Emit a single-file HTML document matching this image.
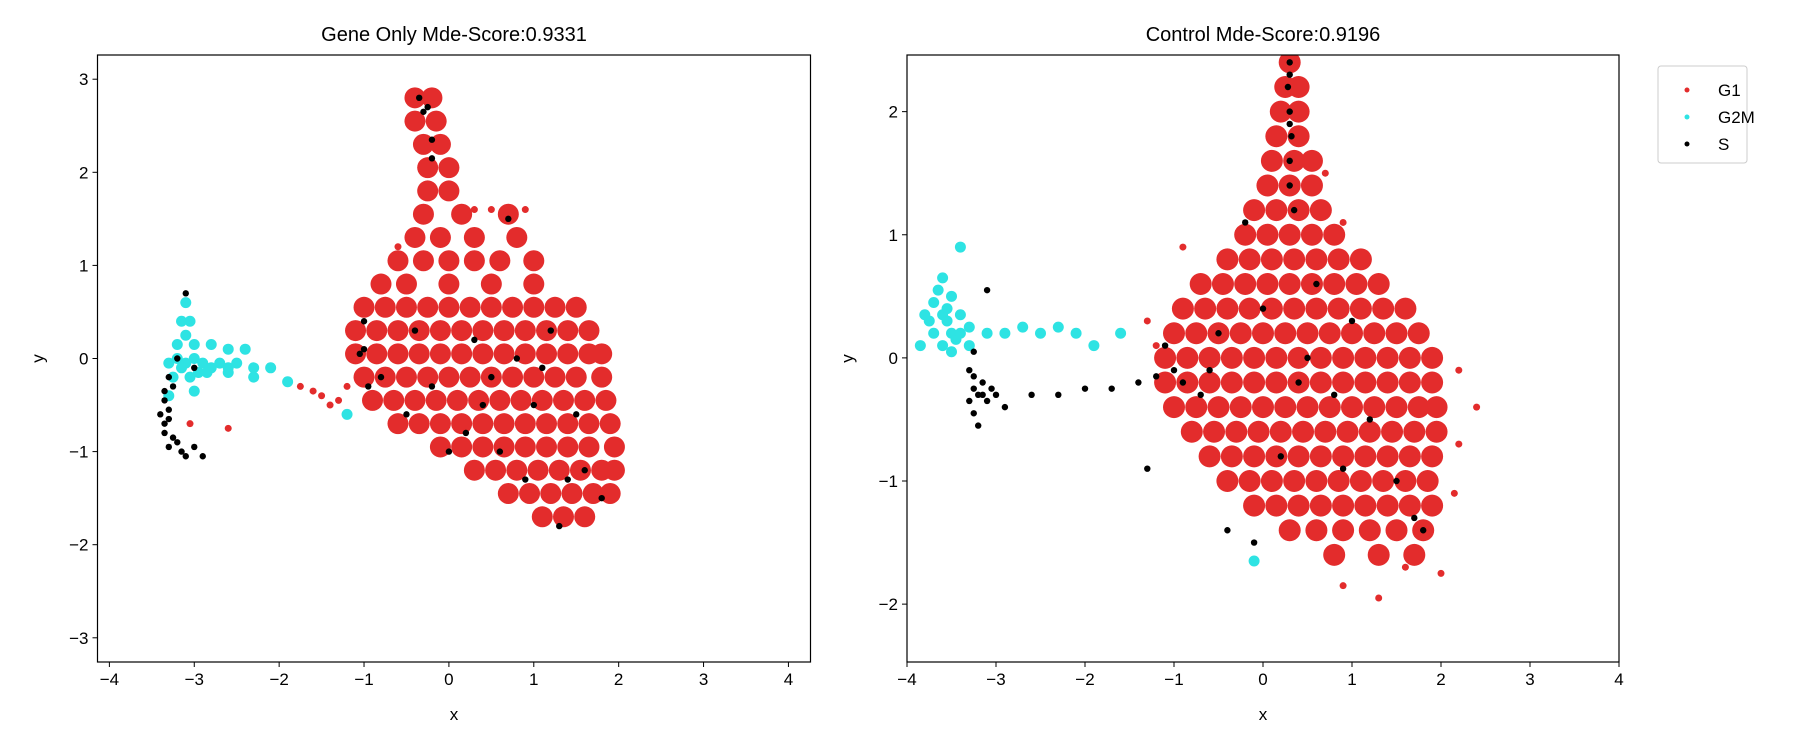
<!DOCTYPE html>
<html><head><meta charset="utf-8"><style>
body{margin:0;background:#fff;}
svg{display:block;font-family:"Liberation Sans",sans-serif;}
</style></head><body>
<svg id="chart" width="1800" height="750" xmlns="http://www.w3.org/2000/svg"></svg>
<script>
// ---------- data (rows: [y, [x...]] or points [x,y]) ----------
const leftRedRows = [
 [2.8,[-0.4,-0.2]],[2.55,[-0.4,-0.15]],[2.3,[-0.3,-0.1]],[2.05,[-0.25,0]],[1.8,[-0.25,0]],
 [1.55,[-0.3,0.15,0.7]],[1.3,[-0.4,-0.1,0.3,0.8]],[1.05,[-0.6,-0.3,0,0.3,0.6,1.0]],
 [0.8,[-0.8,-0.5,0,0.5,1.0]],
 [0.55,[-1,-0.75,-0.5,-0.25,0,0.25,0.5,0.75,1,1.25,1.5]],
 [0.3,[-1.1,-0.85,-0.6,-0.35,-0.1,0.15,0.4,0.65,0.9,1.15,1.4,1.65]],
 [0.05,[-1.1,-0.85,-0.6,-0.35,-0.1,0.15,0.4,0.65,0.9,1.15,1.4,1.65,1.8]],
 [-0.2,[-1.0,-0.75,-0.5,-0.25,0,0.25,0.5,0.75,1,1.25,1.5,1.8]],
 [-0.45,[-0.9,-0.65,-0.4,-0.15,0.1,0.35,0.6,0.85,1.1,1.35,1.6,1.85]],
 [-0.7,[-0.6,-0.35,-0.1,0.15,0.4,0.65,0.9,1.15,1.4,1.65,1.9]],
 [-0.95,[-0.1,0.15,0.4,0.65,0.9,1.15,1.4,1.65,1.95]],
 [-1.2,[0.3,0.55,0.8,1.05,1.3,1.55,1.8,1.95]],
 [-1.45,[0.7,0.95,1.2,1.45,1.7,1.9]],
 [-1.7,[1.1,1.35,1.6]]
];
const leftRedExtra = [[-1.5,-0.4],[-1.75,-0.3],[-1.3,-0.45],[-3.05,-0.7],[-2.6,-0.75],[-1.6,-0.35],[-1.4,-0.5],[-1.2,-0.3],[0.5,1.6],[0.9,1.6],[-0.6,1.2],[0.3,1.6]];
const leftCyan = [[-3.1,0.6],[-3.15,0.4],[-3.05,0.4],[-3.1,0.25],[-3.2,0.15],[-3.0,0.15],[-2.8,0.15],[-2.6,0.1],[-2.4,0.1],
 [-3.3,-0.05],[-3.1,-0.05],[-2.9,-0.05],[-2.7,-0.05],[-2.5,-0.05],[-2.3,-0.1],[-2.1,-0.1],
 [-3.2,0.0],[-3.0,0.0],[-2.8,-0.1],[-2.6,-0.1],[-3.15,-0.1],[-2.95,-0.15],
 [-3.25,-0.2],[-3.05,-0.2],[-2.85,-0.15],[-2.6,-0.15],[-2.3,-0.2],[-1.9,-0.25],[-3.3,-0.4],[-3.0,-0.35],[-1.2,-0.6]];
const leftBlack = [[-3.1,0.7],[-3.2,0.0],[-3.0,-0.1],[-3.3,-0.2],[-3.35,-0.45],[-3.3,-0.65],[-3.35,-0.8],[-3.2,-0.9],
 [-3.0,-0.95],[-2.9,-1.05],[-3.1,-1.05],[-3.25,-0.3],[-3.3,-0.55],[-3.25,-0.85],[-3.4,-0.6],[-3.35,-0.35],[-3.3,-0.95],[-3.15,-1.0],[-3.35,-0.7],
 [-0.35,2.8],[-0.3,2.65],[-0.2,2.35],[-0.2,2.15],[-0.25,2.7],
 [-1.0,0.1],[-1.0,0.4],[-0.8,-0.2],[-0.5,-0.6],[-1.05,0.05],[-0.95,-0.3],
 [0.3,0.2],[0.5,-0.2],[0.8,0],[1.0,-0.5],[1.2,0.3],[0.2,-0.8],[0.6,-1.0],[1.4,-1.3],[1.6,-1.2],[1.8,-1.5],
 [1.3,-1.8],[-0.2,-0.3],[0,-1.0],[0.7,1.5],[1.1,-0.1],[0.4,-0.5],[1.5,-0.6],[0.9,-1.3],[-0.4,0.3]];

const rightRedRows = [
 [2.4,[0.3]],[2.2,[0.25,0.4]],[2.0,[0.2,0.4]],[1.8,[0.15,0.4]],[1.6,[0.1,0.35,0.55]],[1.4,[0.05,0.3,0.55]],
 [1.2,[-0.1,0.15,0.4,0.65]],[1.0,[-0.2,0.05,0.3,0.55,0.8]],
 [0.8,[-0.4,-0.15,0.1,0.35,0.6,0.85,1.1]],
 [0.6,[-0.7,-0.45,-0.2,0.05,0.3,0.55,0.8,1.05,1.3]],
 [0.4,[-0.9,-0.65,-0.4,-0.15,0.1,0.35,0.6,0.85,1.1,1.35,1.6]],
 [0.2,[-1.0,-0.75,-0.5,-0.25,0,0.25,0.5,0.75,1,1.25,1.5,1.75]],
 [0.0,[-1.1,-0.85,-0.6,-0.35,-0.1,0.15,0.4,0.65,0.9,1.15,1.4,1.65,1.9]],
 [-0.2,[-1.1,-0.85,-0.6,-0.35,-0.1,0.15,0.4,0.65,0.9,1.15,1.4,1.65,1.9]],
 [-0.4,[-1.0,-0.75,-0.5,-0.25,0,0.25,0.5,0.75,1,1.25,1.5,1.75,1.95]],
 [-0.6,[-0.8,-0.55,-0.3,-0.05,0.2,0.45,0.7,0.95,1.2,1.45,1.7,1.95]],
 [-0.8,[-0.6,-0.35,-0.1,0.15,0.4,0.65,0.9,1.15,1.4,1.65,1.9]],
 [-1.0,[-0.4,-0.15,0.1,0.35,0.6,0.85,1.1,1.35,1.6,1.85]],
 [-1.2,[-0.1,0.15,0.4,0.65,0.9,1.15,1.4,1.65,1.9]],
 [-1.4,[0.3,0.6,0.9,1.2,1.5,1.8]],
 [-1.6,[0.8,1.3,1.7]]
];
const rightRedExtra = [[2.4,-0.4],[2.2,-0.1],[-1.3,0.3],[1.3,-1.95],[0.9,-1.85],[2.0,-1.75],[1.6,-1.7],[2.15,-1.1],[2.2,-0.7],[-1.2,0.1],[-0.9,0.9],[0.7,1.5],[0.9,1.1]];
const rightCyan = [[-3.6,0.65],[-3.5,0.5],[-3.7,0.45],[-3.8,0.35],[-3.6,0.35],[-3.4,0.35],[-3.7,0.2],[-3.5,0.2],
 [-3.3,0.25],[-3.1,0.2],[-2.9,0.2],[-2.7,0.25],[-2.5,0.2],[-2.3,0.25],[-2.1,0.2],[-1.9,0.1],[-3.4,0.9],
 [-3.85,0.1],[-3.5,0.05],[-3.55,0.3],[-3.45,0.15],[-3.65,0.55],[-3.75,0.3],[-3.55,0.4],[-3.4,0.2],[-3.6,0.1],[-3.3,0.1],
 [-1.6,0.2],[-0.1,-1.65]];
const rightBlack = [[-3.25,0.05],[-3.25,-0.15],[-3.2,-0.3],[-3.1,-0.35],[-3.3,-0.35],[-3.0,-0.3],[-2.9,-0.4],
 [-3.2,-0.55],[-2.6,-0.3],[-2.3,-0.3],[-2.0,-0.25],[-1.7,-0.25],[-1.4,-0.2],[-1.2,-0.15],[-1.0,-0.1],
 [-1.1,0.1],[-1.3,-0.9],[-3.1,0.55],[-3.15,-0.2],[-3.3,-0.1],[-3.25,-0.25],[-3.15,-0.3],[-3.05,-0.25],[-3.25,-0.45],
 [0.3,2.4],[0.28,2.2],[0.3,2.0],[0.32,1.8],[0.3,1.6],[0.3,1.4],[0.35,1.2],[0.3,2.3],[0.3,1.9],
 [0,0.4],[0.5,0],[0.8,-0.3],[1.2,-0.5],[1.5,-1.0],[1.7,-1.3],[1.8,-1.4],[-0.5,0.2],[-0.7,-0.3],[0.2,-0.8],
 [-0.4,-1.4],[-0.1,-1.5],[1.0,0.3],[0.6,0.6],[-0.2,1.1],[-0.6,-0.1],[0.4,-0.2],[-0.9,-0.2],[0.9,-0.9]];

const leftXTicks = [-4,-3,-2,-1,0,1,2,3,4];
const leftYTicks = [-3,-2,-1,0,1,2,3];
const rightXTicks = [-4,-3,-2,-1,0,1,2,3,4];
const rightYTicks = [-2,-1,0,1,2];
const seriesNames = ["G1","G2M","S"];
const seriesColors = ["#e32c2c","#2ee3e3","#000000"];

// ---------- drawing ----------
const NS="http://www.w3.org/2000/svg";
const svg=document.getElementById('chart');
function el(tag,attrs,parent){const e=document.createElementNS(NS,tag);for(const k in attrs)e.setAttribute(k,attrs[k]);(parent||svg).appendChild(e);return e;}
function rowsToPts(rows){const p=[];rows.forEach(r=>r[1].forEach(x=>p.push([x,r[0]])));return p;}

function panel(cfg){
  const g=el('g',{});
  
  
  const sx=v=>cfg.x0+(v-cfg.xmin)/(cfg.xmax-cfg.xmin)*(cfg.x1-cfg.x0);
  const sy=v=>cfg.y1-(v-cfg.ymin)/(cfg.ymax-cfg.ymin)*(cfg.y1-cfg.y0);
  const cl='clip-'+cfg.name;
  const d=el('clipPath',{id:cl},g);el('rect',{x:cfg.x0,y:cfg.y0,width:cfg.x1-cfg.x0,height:cfg.y1-cfg.y0},d);
  const pg=el('g',{'clip-path':'url(#'+cl+')'},g);
  const groups=[[cfg.red,seriesColors[0],cfg.rr,'g1-points'],[cfg.redX,seriesColors[0],3.5,'g1-outlier-points'],
    [cfg.cyan,seriesColors[1],5.5,'g2m-points'],[cfg.black,seriesColors[2],3.2,'s-points']];
  groups.forEach(([pts,c,r,nm])=>{
    const sg=el('g',{fill:c},pg);
    
    
    pts.forEach(p=>{
      const ci=el('circle',{cx:sx(p[0]),cy:sy(p[1]),r:r},sg);
      
      
    });
  });
  const fr=el('rect',{x:cfg.x0,y:cfg.y0,width:cfg.x1-cfg.x0,height:cfg.y1-cfg.y0,fill:'none',stroke:'#000','stroke-width':1.2},g);
  
  
  cfg.xt.forEach(t=>{const x=sx(t);
    el('line',{x1:x,x2:x,y1:cfg.y1,y2:cfg.y1+5,stroke:'#000'},g);
    const tx=el('text',{x:x,y:cfg.y1+23,'font-size':17,'text-anchor':'middle'},g);tx.textContent=(t<0?'\u2212'+(-t):t);
    
    });
  cfg.yt.forEach(t=>{const y=sy(t);
    el('line',{x1:cfg.x0-5,x2:cfg.x0,y1:y,y2:y,stroke:'#000'},g);
    const tx=el('text',{x:cfg.x0-9,y:y+6,'font-size':17,'text-anchor':'end'},g);tx.textContent=(t<0?'\u2212'+(-t):t);
    
    });
  const ti=el('text',{x:(cfg.x0+cfg.x1)/2,y:41,'font-size':20,'text-anchor':'middle'},g);ti.textContent=cfg.title;
  
  
  const xl=el('text',{x:(cfg.x0+cfg.x1)/2,y:720,'font-size':17,'text-anchor':'middle'},g);xl.textContent='x';
  
  
  const yx=cfg.x0-54,yy=(cfg.y0+cfg.y1)/2;
  const yl=el('text',{x:yx,y:yy,'font-size':17,'text-anchor':'middle',transform:'rotate(-90 '+yx+' '+yy+')'},g);yl.textContent='y';
  
  
}

panel({name:'gene-only-panel',title:'Gene Only Mde-Score:0.9331',x0:97.5,x1:810.5,y0:55,y1:662,
  xmin:-4.14,xmax:4.26,ymin:-3.26,ymax:3.26,rr:10.5,
  red:rowsToPts(leftRedRows),redX:leftRedExtra,cyan:leftCyan,black:leftBlack,xt:leftXTicks,yt:leftYTicks});
panel({name:'control-panel',title:'Control Mde-Score:0.9196',x0:907,x1:1619,y0:55,y1:662,
  xmin:-4,xmax:4,ymin:-2.47,ymax:2.46,rr:11,
  red:rowsToPts(rightRedRows),redX:rightRedExtra,cyan:rightCyan,black:rightBlack,xt:rightXTicks,yt:rightYTicks});

// legend
const lg=el('g',{});


el('rect',{x:1658,y:66,width:89,height:97,rx:3,fill:'#fff',stroke:'#ccc'},lg);
seriesNames.forEach((n,i)=>{
  const y=90+i*27;
  const e=el('g',{},lg);
  
  
  el('circle',{cx:1687,cy:y,r:2.5,fill:seriesColors[i]},e);
  const t=el('text',{x:1718,y:y+6,'font-size':17},e);t.textContent=n;
});
</script>
</body></html>
